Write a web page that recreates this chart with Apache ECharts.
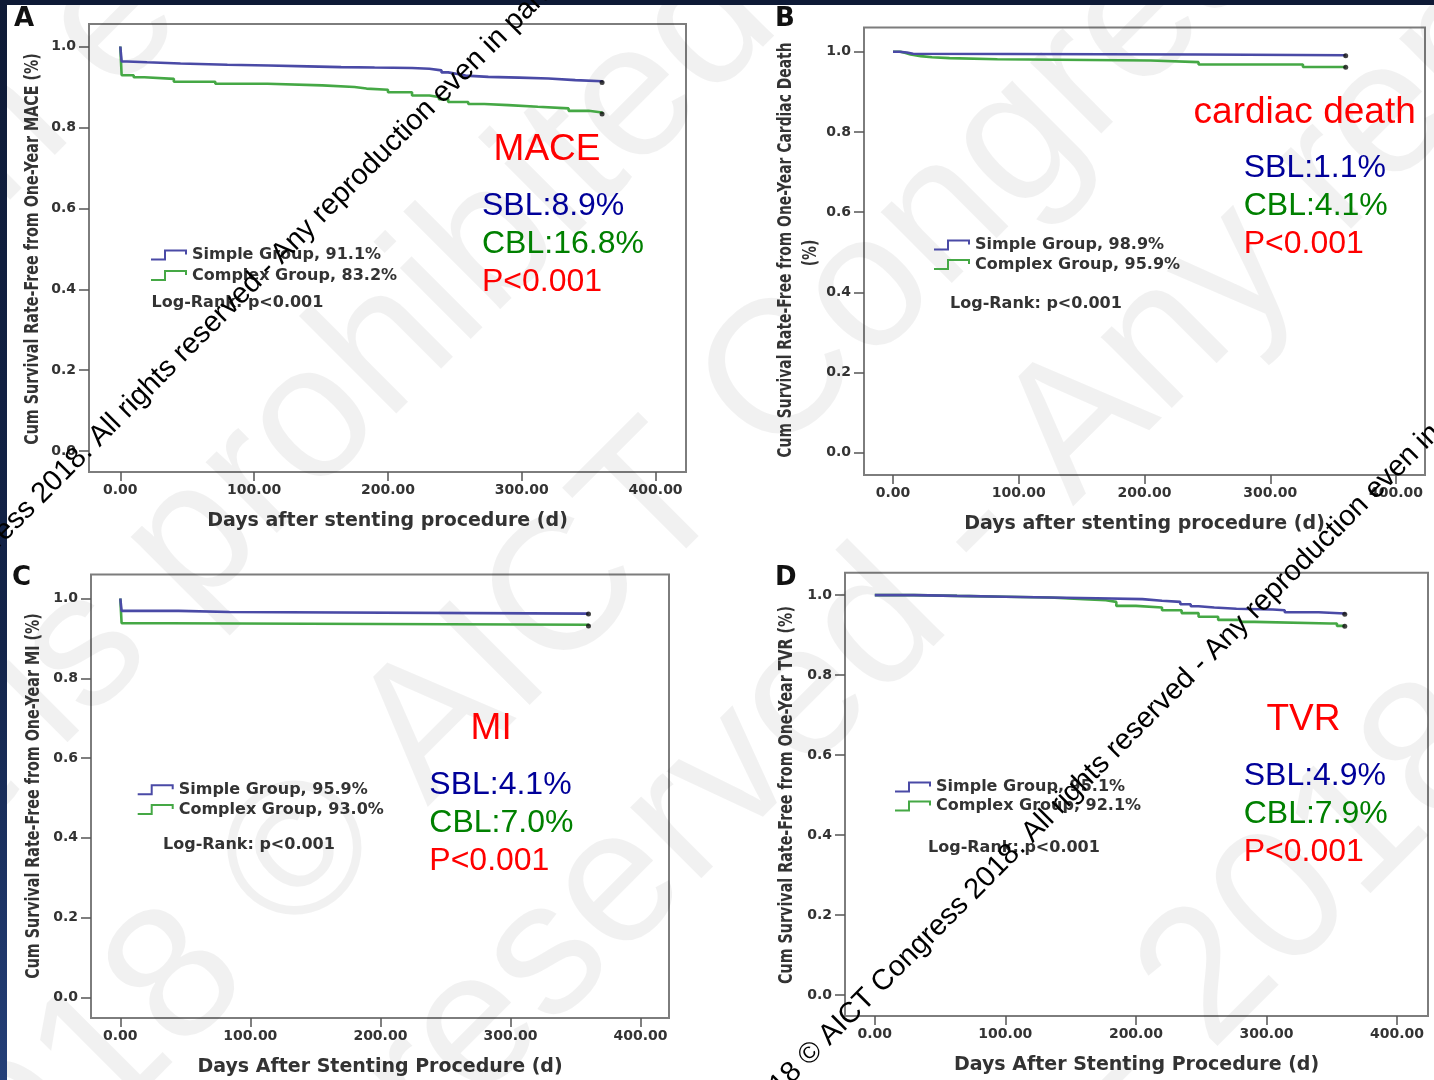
<!DOCTYPE html>
<html><head><meta charset="utf-8">
<script src="https://cdn.jsdelivr.net/npm/echarts@6/dist/echarts.min.js"></script>
<style>html,body{margin:0;padding:0;background:#fff}#c{width:1434px;height:1080px}</style>
</head><body><div id="c"></div>
<script>
// ---------------- DATA ----------------
const xTicks = [0, 100, 200, 300, 400];
const yTicks = [0, 0.2, 0.4, 0.6, 0.8, 1.0];

const panelLetters = ['A', 'B', 'C', 'D'];
const eventNames = ['MACE', 'cardiac death', 'MI', 'TVR'];
const sblTexts = ['SBL:8.9%', 'SBL:1.1%', 'SBL:4.1%', 'SBL:4.9%'];
const cblTexts = ['CBL:16.8%', 'CBL:4.1%', 'CBL:7.0%', 'CBL:7.9%'];
const pTexts = ['P<0.001', 'P<0.001', 'P<0.001', 'P<0.001'];
const logRankTexts = ['Log-Rank: p<0.001', 'Log-Rank: p<0.001', 'Log-Rank: p<0.001', 'Log-Rank: p<0.001'];
const simpleNames = ['Simple Group, 91.1%', 'Simple Group, 98.9%', 'Simple Group, 95.9%', 'Simple Group, 95.1%'];
const complexNames = ['Complex Group, 83.2%', 'Complex Group, 95.9%', 'Complex Group, 93.0%', 'Complex Group, 92.1%'];
const yTitles = ['Cum Survival Rate-Free from One-Year MACE (%)', 'Cum Survival Rate-Free from One-Year Cardiac Death', 'Cum Survival Rate-Free from One-Year MI (%)', 'Cum Survival Rate-Free from One-Year TVR (%)'];
const xTitles = ['Days after stenting procedure (d)', 'Days after stenting procedure (d)', 'Days After Stenting Procedure (d)', 'Days After Stenting Procedure (d)'];

// Kaplan-Meier estimates [day, cumulative survival]
const maceSimple = [[0,1.0],[1,0.963],[5,0.961],[20,0.958],[45,0.955],[80,0.953],[111,0.951],[140,0.949],[165,0.948],[190,0.947],[218,0.945],[231,0.941],[240,0.936],[245,0.932],[252,0.928],[258,0.925],[275,0.923],[298,0.921],[320,0.917],[340,0.914],[360,0.911]];
const maceComplex = [[0,1.0],[1,0.929],[10,0.924],[18,0.920],[40,0.913],[71,0.908],[110,0.904],[151,0.900],[175,0.896],[184,0.893],[200,0.887],[218,0.879],[231,0.875],[238,0.870],[245,0.863],[260,0.858],[272,0.855],[290,0.851],[312,0.847],[335,0.841],[350,0.837],[360,0.833]];
const cdSimple = [[0,1.0],[5,0.998],[11,0.995],[16,0.993],[243,0.991],[360,0.990]];
const cdComplex = [[0,1.0],[6,0.997],[10,0.993],[14,0.989],[22,0.986],[31,0.984],[45,0.981],[83,0.978],[205,0.974],[243,0.968],[326,0.962],[360,0.961]];
const miSimple = [[0,1.0],[1,0.969],[45,0.966],[84,0.962],[360,0.961]];
const miComplex = [[0,1.0],[1,0.938],[37,0.934],[360,0.931]];
const tvrSimple = [[0,1.0],[30,0.998],[63,0.996],[100,0.994],[134,0.992],[170,0.990],[205,0.986],[220,0.983],[234,0.977],[242,0.972],[248,0.969],[260,0.966],[277,0.964],[305,0.962],[314,0.957],[340,0.954],[360,0.952]];
const tvrComplex = [[0,1.0],[30,0.998],[63,0.996],[100,0.994],[134,0.990],[160,0.987],[177,0.983],[185,0.973],[200,0.969],[220,0.962],[235,0.955],[248,0.946],[263,0.938],[280,0.933],[291,0.929],[349,0.929],[354,0.923],[360,0.922]];

const simpleData = [maceSimple, cdSimple, miSimple, tvrSimple];
const complexData = [maceComplex, cdComplex, miComplex, tvrComplex];

// ---------------- LAYOUT ----------------
const P = [
  {l:89,  t:24,    r:686,  b:472,  x0:120.3, x400:655.6, y1:46.5,  y0:451.1,
   leg:[151,247,4.5], lr:[151.5,303], ann:[493.6,150,482,206,244.5,282.4], yt:[33.3,249], letter:[14,19.5]},
  {l:864, t:27.5,  r:1425, b:475,  x0:893,   x400:1396,  y1:51.7,  y0:452.8,
   leg:[934,237,3.5], lr:[950,303.7], ann:[1193.6,113,1243.7,168,206.6,244.5], yt:[786,250], letter:[775,19.5]},
  {l:91,  t:574.4, r:669,  b:1018, x0:120.3, x400:640.5, y1:598.5, y0:997.3,
   leg:[137.7,781.7,3.9], lr:[163,844.8], ann:[470.6,728.5,429.3,785,823,861], yt:[34.4,796], letter:[12,578.5]},
  {l:845, t:572.7, r:1428, b:1016, x0:874.8, x400:1397,  y1:595.1, y0:995.2,
   leg:[895,779,3], lr:[928,848], ann:[1266.5,720,1243.7,776,814.6,852.5], yt:[787,795], letter:[775,578.5]}
];

const SIMPLE_COLOR = '#4a4aa6';
const COMPLEX_COLOR = '#45a845';
const STEP_ICON = 'path://M0,9 L13,9 L13,0 L36,0 L36,5 L34,5 L34,2 L15,2 L15,11 L0,11 Z';
const boldFont = 'DejaVu Sans';

const grids = [], xAxes = [], yAxes = [], series = [], legends = [], graphics = [];

P.forEach((p, i) => {
  const ppd = (p.x400 - p.x0) / 400;
  const ppu = p.y0 - p.y1;
  grids.push({left: p.l, top: p.t, width: p.r - p.l, height: p.b - p.t, show: true,
    borderColor: '#7d7d7d', borderWidth: 2, backgroundColor: 'transparent'});
  xAxes.push({type: 'value', gridIndex: i, position: 'bottom', min: (p.l - p.x0) / ppd, max: (p.r - p.x0) / ppd,
    axisLine: {show: false, onZero: false}, splitLine: {show: false},
    axisTick: {show: true, customValues: xTicks, length: 9, lineStyle: {color: '#555', width: 1.5}},
    axisLabel: {customValues: xTicks, formatter: v => v.toFixed(2), fontFamily: boldFont, fontWeight: 'bold', fontSize: 14, color: '#333', margin: 11},
    name: xTitles[i], nameLocation: 'middle', nameGap: 40,
    nameTextStyle: {fontFamily: boldFont, fontWeight: 'bold', fontSize: 19, color: '#333'}});
  yAxes.push({type: 'value', gridIndex: i, position: 'left', min: -(p.b - p.y0) / ppu, max: 1 + (p.y1 - p.t) / ppu,
    axisLine: {show: false, onZero: false}, splitLine: {show: false},
    axisTick: {show: true, customValues: yTicks, length: 10, lineStyle: {color: '#555', width: 1.5}},
    axisLabel: {customValues: yTicks, formatter: v => v.toFixed(1), fontFamily: boldFont, fontWeight: 'bold', fontSize: 14, color: '#333', margin: 13}});
  series.push({type: 'line', name: simpleNames[i], xAxisIndex: i, yAxisIndex: i, data: simpleData[i], step: 'end',
    symbol: 'none', lineStyle: {color: SIMPLE_COLOR, width: 2.6}, itemStyle: {color: SIMPLE_COLOR}, z: 4, animation: false});
  series.push({type: 'line', name: complexNames[i], xAxisIndex: i, yAxisIndex: i, data: complexData[i], step: 'end',
    symbol: 'none', lineStyle: {color: COMPLEX_COLOR, width: 2.6}, itemStyle: {color: COMPLEX_COLOR}, z: 3, animation: false});
  series.push({type: 'scatter', name: 'censor' + i, xAxisIndex: i, yAxisIndex: i,
    data: [simpleData[i][simpleData[i].length - 1], complexData[i][complexData[i].length - 1]],
    symbolSize: 5, itemStyle: {color: '#111'}, silent: true, z: 5, animation: false});
  legends.push({left: p.leg[0], top: p.leg[1], orient: 'vertical', padding: 0, itemGap: p.leg[2],
    itemWidth: 36, itemHeight: 11, icon: STEP_ICON, selectedMode: false,
    data: [simpleNames[i], complexNames[i]],
    textStyle: {fontFamily: boldFont, fontWeight: 'bold', fontSize: 16, lineHeight: 16, color: '#333'}});

  const t = (text, x, y, size, color) => ({type: 'text', x: x, y: y, silent: true, z: 50,
    style: {text: text, fontSize: size, fontFamily: 'Liberation Sans', fill: color,
      align: 'left', textAlign: 'left', verticalAlign: 'middle', textVerticalAlign: 'middle'}});
  graphics.push(t(eventNames[i], p.ann[0], p.ann[1], 37, '#ff0000'));
  graphics.push(t(sblTexts[i], p.ann[2], p.ann[3], 32, '#000099'));
  graphics.push(t(cblTexts[i], p.ann[2], p.ann[4], 32, '#008000'));
  graphics.push(t(pTexts[i], p.ann[2], p.ann[5], 32, '#ff0000'));
  graphics.push({type: 'text', x: p.lr[0], y: p.lr[1], silent: true, z: 50,
    style: {text: logRankTexts[i], fontSize: 16, fontWeight: 'bold', fontFamily: boldFont, fill: '#333',
      align: 'left', textAlign: 'left', verticalAlign: 'middle', textVerticalAlign: 'middle'}});
  graphics.push({type: 'text', x: p.letter[0], y: p.letter[1], silent: true, z: 50,
    style: {text: panelLetters[i], fontSize: 26, fontWeight: 'bold', fontFamily: boldFont, fill: '#111',
      align: 'left', textAlign: 'left', verticalAlign: 'middle', textVerticalAlign: 'middle'}});
  graphics.push({type: 'text', x: p.yt[0], y: p.yt[1], rotation: Math.PI / 2, scaleX: 1, scaleY: 1.35, silent: true, z: 50,
    style: {text: yTitles[i], fontSize: i === 1 ? 13.9 : 14.3, fontWeight: 'bold', fontFamily: boldFont, fill: '#333',
      align: 'center', textAlign: 'center', verticalAlign: 'middle', textVerticalAlign: 'middle'}});
});
// second line of panel B y title
graphics.push({type: 'text', x: 811, y: 253, rotation: Math.PI / 2, scaleY: 1.35, silent: true, z: 50,
  style: {text: '(%)', fontSize: 13.9, fontWeight: 'bold', fontFamily: boldFont, fill: '#333',
    align: 'center', textAlign: 'center', verticalAlign: 'middle', textVerticalAlign: 'middle'}});

// dark page border strips
graphics.push({type: 'rect', shape: {x: 0, y: 0, width: 1434, height: 5}, style: {fill: '#0e1a36'}, silent: true, z: 60});
graphics.push({type: 'rect', shape: {x: 0, y: 0, width: 7, height: 1080}, silent: true, z: 60,
  style: {fill: new echarts.graphic.LinearGradient(0, 0, 0, 1, [{offset: 0, color: '#0e1a36'}, {offset: 0.6, color: '#13244a'}, {offset: 1, color: '#243f78'}])}});

// watermarks
const wm = (text, x, y, size, color, align, z) => ({type: 'text', x: x, y: y, rotation: Math.PI / 4, silent: true, z: z,
  style: {text: text, fontSize: size, fontFamily: 'Liberation Sans', fill: color, align: align, textAlign: align,
    verticalAlign: 'bottom', textVerticalAlign: 'bottom'}});
const G = 'rgba(0,0,0,0.055)';
graphics.push(wm('Any reproduction ', 143, 127, 190, G, 'right', 1));
graphics.push(wm('even in part is prohibited', 143, 127, 190, G, 'left', 1));
graphics.push(wm('even in part is ', 223, 647, 190, G, 'right', 1));
graphics.push(wm('prohibited - 2018 © AICT Congress', 223, 647, 190, G, 'left', 1));
graphics.push(wm('2018 © AICT ', 801, 494, 190, G, 'right', 1));
graphics.push(wm('Congress 2018 - All rights reserved', 801, 494, 190, G, 'left', 1));
graphics.push(wm('All rights reserved - ', 1103, 537, 190, G, 'right', 1));
graphics.push(wm('Any reproduction even in part', 1103, 537, 190, G, 'left', 1));
graphics.push(wm('is prohibited - ', 1241, 1083, 190, G, 'right', 1));
graphics.push(wm('2018 © AICT Congress', 1241, 1083, 190, G, 'left', 1));
graphics.push(wm('2018 © AICT Congress 2018. ', 104, 452, 29, '#000', 'right', 100));
graphics.push(wm('All rights reserved - Any reproduction even in part is prohibited', 104, 452, 29, '#000', 'left', 100));
graphics.push(wm('2018 © AICT Congress 2018. ', 1037, 848, 29, '#000', 'right', 100));
graphics.push(wm('All rights reserved - Any reproduction even in part is prohibited', 1037, 848, 29, '#000', 'left', 100));

const chart = echarts.init(document.getElementById('c'), null, {renderer: 'canvas'});
chart.setOption({
  backgroundColor: '#ffffff',
  animation: false,
  grid: grids, xAxis: xAxes, yAxis: yAxes, series: series, legend: legends,
  graphic: {elements: graphics}
});
</script></body></html>
